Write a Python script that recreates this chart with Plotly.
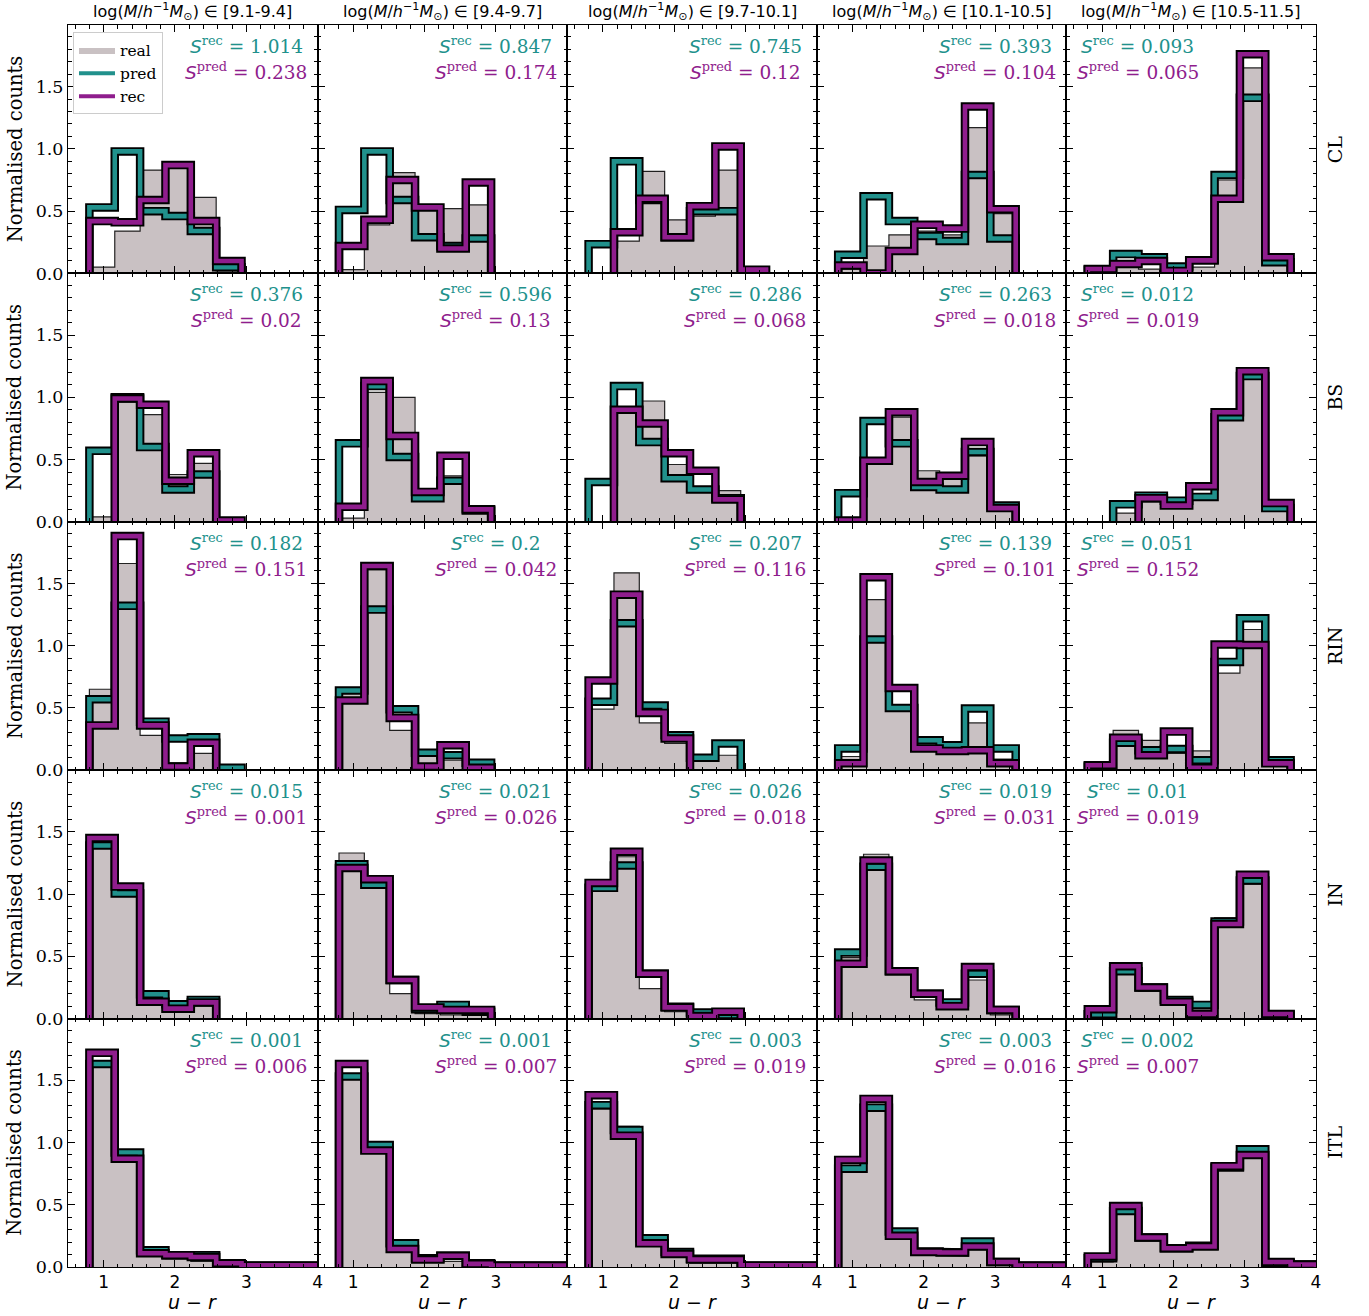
import numpy as np
import plotly.graph_objects as go
from plotly.subplots import make_subplots

# ---------------- data ----------------
ROWS = ["CL", "BS", "RIN", "IN", "ITL"]
MASS_BINS = ["9.1-9.4", "9.4-9.7", "9.7-10.1", "10.1-10.5", "10.5-11.5"]
U_R_MIN, U_R_MAX, N_BINS = 0.8, 4.0, 9

# normalised counts per u-r bin, one list per mass column
REAL_CL = [[0.05, 0.34, 0.83, 0.85, 0.61, 0.02, 0, 0, 0],
           [0.03, 0.39, 0.81, 0.53, 0.52, 0.55, 0, 0, 0],
           [0, 0.26, 0.82, 0.43, 0.46, 0.83, 0, 0, 0],
           [0.035, 0.22, 0.31, 0.34, 0.31, 1.17, 0.48, 0, 0],
           [0.01, 0.10, 0.035, 0.04, 0.05, 0.75, 1.65, 0.10, 0]]
PRED_CL = [[0.53, 0.98, 0.50, 0.46, 0.34, 0.05, 0, 0, 0],
           [0.51, 0.98, 0.59, 0.29, 0.22, 0.28, 0, 0, 0],
           [0.235, 0.90, 0.59, 0.29, 0.50, 0.50, 0, 0, 0],
           [0.15, 0.62, 0.42, 0.30, 0.26, 0.79, 0.28, 0, 0],
           [0.03, 0.155, 0.13, 0.055, 0.105, 0.79, 1.41, 0.09, 0]]
REC_CL = [[0.42, 0.41, 0.59, 0.87, 0.42, 0.10, 0, 0, 0],
          [0.22, 0.43, 0.75, 0.53, 0.20, 0.73, 0, 0, 0],
          [0, 0.33, 0.60, 0.29, 0.54, 1.02, 0.03, 0, 0],
          [0.064, 0, 0.18, 0.39, 0.36, 1.34, 0.515, 0, 0],
          [0.035, 0.075, 0.10, 0.02, 0.105, 0.60, 1.76, 0.13, 0]]

REAL_BS = [[0.04, 0.96, 0.86, 0.38, 0.47, 0.01, 0, 0, 0],
           [0.03, 1.04, 1.00, 0.20, 0.37, 0.08, 0, 0, 0],
           [0, 0.87, 0.97, 0.46, 0.27, 0.25, 0, 0, 0],
           [0.01, 0.47, 0.84, 0.41, 0.34, 0.53, 0.15, 0, 0],
           [0, 0.07, 0.16, 0.19, 0.20, 0.84, 1.16, 0.085, 0]]
PRED_BS = [[0.57, 1.00, 0.60, 0.26, 0.38, 0, 0, 0, 0],
           [0.63, 1.09, 0.52, 0.19, 0.33, 0.09, 0, 0, 0],
           [0.32, 1.09, 0.64, 0.35, 0.26, 0.19, 0, 0, 0],
           [0.23, 0.81, 0.63, 0.28, 0.26, 0.56, 0.13, 0, 0],
           [0, 0.14, 0.21, 0.17, 0.20, 0.84, 1.17, 0.11, 0]]
REC_BS = [[0, 0.99, 0.94, 0.33, 0.55, 0.01, 0, 0, 0],
          [0.12, 1.13, 0.69, 0.24, 0.53, 0.10, 0, 0, 0],
          [0, 0.90, 0.79, 0.55, 0.41, 0.18, 0, 0, 0],
          [0.01, 0.49, 0.88, 0.32, 0.37, 0.64, 0.11, 0, 0],
          [0, 0, 0.19, 0.13, 0.285, 0.88, 1.21, 0.15, 0]]

REAL_RIN = [[0.65, 1.66, 0.28, 0.06, 0.135, 0.01, 0, 0, 0],
            [0.62, 1.61, 0.32, 0.12, 0.08, 0.04, 0, 0, 0],
            [0.49, 1.585, 0.38, 0.215, 0.07, 0.12, 0, 0, 0],
            [0.11, 1.37, 0.48, 0.20, 0.16, 0.38, 0.09, 0, 0],
            [0.02, 0.32, 0.24, 0.135, 0.155, 0.78, 1.13, 0.08, 0]]
PRED_RIN = [[0.57, 1.32, 0.39, 0.255, 0.265, 0.02, 0, 0, 0],
            [0.64, 1.29, 0.49, 0.14, 0.12, 0.06, 0, 0, 0],
            [0.55, 1.18, 0.52, 0.28, 0.10, 0.215, 0, 0, 0],
            [0.175, 1.05, 0.50, 0.24, 0.20, 0.495, 0.175, 0, 0],
            [0.03, 0.22, 0.16, 0.17, 0.08, 0.87, 1.22, 0.08, 0]]
REC_RIN = [[0.36, 1.88, 0.36, 0.03, 0.22, 0, 0, 0, 0],
           [0.56, 1.64, 0.42, 0.03, 0.20, 0.02, 0, 0, 0],
           [0.72, 1.41, 0.46, 0.255, 0, 0, 0, 0, 0],
           [0.056, 1.55, 0.66, 0.175, 0.155, 0.16, 0.056, 0, 0],
           [0.04, 0.26, 0.12, 0.31, 0.02, 1.01, 1.005, 0.055, 0]]

REAL_IN = [[1.37, 0.99, 0.12, 0.09, 0.10, 0, 0, 0, 0],
           [1.33, 1.05, 0.20, 0.04, 0.03, 0.04, 0, 0, 0],
           [1.03, 1.30, 0.24, 0.055, 0.015, 0.03, 0, 0, 0],
           [0.49, 1.32, 0.36, 0.15, 0.095, 0.31, 0.03, 0, 0],
           [0.03, 0.44, 0.22, 0.11, 0.08, 0.81, 1.08, 0.03, 0]]
PRED_IN = [[1.39, 1.005, 0.195, 0.115, 0.15, 0, 0, 0, 0],
           [1.24, 1.075, 0.31, 0.075, 0.11, 0.056, 0, 0, 0],
           [1.05, 1.23, 0.36, 0.095, 0.048, 0.03, 0, 0, 0],
           [0.53, 1.22, 0.38, 0.20, 0.13, 0.36, 0.07, 0, 0],
           [0.035, 0.38, 0.25, 0.15, 0.11, 0.78, 1.11, 0.03, 0]]
REC_IN = [[1.45, 1.06, 0.135, 0.08, 0.13, 0, 0, 0, 0],
          [1.21, 1.12, 0.31, 0.09, 0.07, 0.07, 0, 0, 0],
          [1.09, 1.34, 0.36, 0.09, 0.02, 0.056, 0, 0, 0],
          [0.44, 1.27, 0.38, 0.20, 0.10, 0.415, 0.07, 0, 0],
          [0.075, 0.42, 0.25, 0.135, 0.037, 0.76, 1.155, 0.037, 0]]

REAL_ITL = [[1.61, 0.85, 0.10, 0.067, 0.045, 0.02, 0.01, 0.01, 0.01],
            [1.51, 0.92, 0.125, 0.06, 0.045, 0.02, 0.01, 0.01, 0.01],
            [1.27, 1.13, 0.18, 0.085, 0.03, 0.03, 0.01, 0.01, 0.01],
            [0.80, 1.26, 0.25, 0.125, 0.11, 0.14, 0.03, 0.01, 0.01],
            [0.04, 0.43, 0.23, 0.14, 0.15, 0.785, 0.88, 0.03, 0.01]]
PRED_ITL = [[1.63, 0.92, 0.135, 0.095, 0.095, 0.03, 0.01, 0.01, 0.01],
            [1.53, 0.98, 0.19, 0.07, 0.09, 0.03, 0.01, 0.01, 0.01],
            [1.30, 1.10, 0.23, 0.12, 0.067, 0.067, 0.01, 0.01, 0.01],
            [0.79, 1.28, 0.285, 0.125, 0.117, 0.205, 0.04, 0.01, 0.01],
            [0.07, 0.45, 0.237, 0.15, 0.17, 0.80, 0.945, 0.03, 0.02]]
REC_ITL = [[1.72, 0.87, 0.11, 0.095, 0.08, 0.03, 0.013, 0.013, 0.013],
           [1.63, 0.935, 0.145, 0.06, 0.09, 0.025, 0.012, 0.012, 0.012],
           [1.38, 1.055, 0.19, 0.105, 0.06, 0.06, 0.013, 0.013, 0.013],
           [0.86, 1.35, 0.25, 0.12, 0.117, 0.165, 0.04, 0.012, 0.012],
           [0.085, 0.49, 0.237, 0.15, 0.165, 0.81, 0.90, 0.04, 0.02]]

S_REC = [[1.014, 0.847, 0.745, 0.393, 0.093],
         [0.376, 0.596, 0.286, 0.263, 0.012],
         [0.182, 0.2, 0.207, 0.139, 0.051],
         [0.015, 0.021, 0.026, 0.019, 0.01],
         [0.001, 0.001, 0.003, 0.003, 0.002]]
S_PRED = [[0.238, 0.174, 0.12, 0.104, 0.065],
          [0.02, 0.13, 0.068, 0.018, 0.019],
          [0.151, 0.042, 0.116, 0.101, 0.152],
          [0.001, 0.026, 0.018, 0.031, 0.019],
          [0.006, 0.007, 0.019, 0.016, 0.007]]

REAL = [REAL_CL, REAL_BS, REAL_RIN, REAL_IN, REAL_ITL]
PRED = [PRED_CL, PRED_BS, PRED_RIN, PRED_IN, PRED_ITL]
REC = [REC_CL, REC_BS, REC_RIN, REC_IN, REC_ITL]

# ---------------- style ----------------
GRAY = "#c9c1c3"
TEAL = "#21918c"
PURPLE = "#8f1d8d"
SERIF = "DejaVu Serif"
SANS = "DejaVu Sans"

edges = np.linspace(U_R_MIN, U_R_MAX, N_BINS + 1)


def step_path(vals):
    v = np.asarray(vals, dtype=float)
    nz = np.nonzero(v > 0)[0]
    if len(nz) == 0:
        return [], []
    i0, i1 = nz[0], nz[-1]
    xs, ys = [edges[i0]], [0.0]
    for i in range(i0, i1 + 1):
        xs += [edges[i], edges[i + 1]]
        ys += [v[i], v[i]]
    xs.append(edges[i1 + 1])
    ys.append(0.0)
    return xs, ys


nr, nc = 5, 5
fig = make_subplots(rows=nr, cols=nc, horizontal_spacing=0, vertical_spacing=0)

for r in range(nr):
    for c in range(nc):
        xs, ys = step_path(REAL[r][c])
        fig.add_trace(go.Scatter(x=xs, y=ys, mode="lines", fill="toself", fillcolor=GRAY,
                                 line=dict(color="rgba(0,0,0,0.85)", width=1.2),
                                 showlegend=False, hoverinfo="skip"), row=r + 1, col=c + 1)
        for vals, col in ((PRED[r][c], TEAL), (REC[r][c], PURPLE)):
            xs, ys = step_path(vals)
            fig.add_trace(go.Scatter(x=xs, y=ys, mode="lines",
                                     line=dict(color="black", width=8.5),
                                     showlegend=False, hoverinfo="skip"), row=r + 1, col=c + 1)
            fig.add_trace(go.Scatter(x=xs, y=ys, mode="lines",
                                     line=dict(color=col, width=4.6),
                                     showlegend=False, hoverinfo="skip"), row=r + 1, col=c + 1)

# legend-only traces
fig.add_trace(go.Scatter(x=[None], y=[None], mode="lines", fill="toself", fillcolor=GRAY,
                         line=dict(width=0, color=GRAY), name="real"), row=1, col=1)
fig.add_trace(go.Scatter(x=[None], y=[None], mode="lines", line=dict(color=TEAL, width=4),
                         name="pred"), row=1, col=1)
fig.add_trace(go.Scatter(x=[None], y=[None], mode="lines", line=dict(color=PURPLE, width=4),
                         name="rec"), row=1, col=1)

fig.update_xaxes(range=[0.5, 4.0], tick0=0, dtick=1, ticks="inside", ticklen=7, tickwidth=1,
                 tickcolor="black", showline=True, linecolor="black", linewidth=1, mirror="ticks",
                 minor=dict(ticks="inside", tick0=0, dtick=0.2, ticklen=3.5, tickcolor="black",
                            tickwidth=0.8, showgrid=False),
                 showgrid=False, zeroline=False, showticklabels=False,
                 tickfont=dict(family=SANS, size=17, color="black"))
fig.update_yaxes(range=[0, 1.995], tick0=0, dtick=0.5, tickformat=".1f", ticks="inside",
                 ticklen=7, tickwidth=1, tickcolor="black", showline=True, linecolor="black",
                 linewidth=1, mirror="ticks",
                 minor=dict(ticks="inside", tick0=0, dtick=0.1, ticklen=3.5, tickcolor="black",
                            tickwidth=0.8, showgrid=False),
                 showgrid=False, zeroline=False, showticklabels=False,
                 tickfont=dict(family=SERIF, size=17.5, color="black"))
for c in range(nc):
    fig.update_xaxes(showticklabels=True, row=nr, col=c + 1)
for r in range(nr):
    fig.update_yaxes(showticklabels=True, row=r + 1, col=1)

annotations = []
for r in range(nr):
    for c in range(nc):
        idx = r * nc + c + 1
        xref = "x" if idx == 1 else f"x{idx}"
        yref = "y" if idx == 1 else f"y{idx}"
        xc = 1.5 if c == nc - 1 else 3.0
        annotations.append(dict(
            x=xc, y=1.835, xref=xref, yref=yref, xanchor="center", yanchor="middle", showarrow=False,
            text=f"<span style='font-family:{SANS}'><i>S</i></span><sup>rec</sup> = {S_REC[r][c]}",
            font=dict(family=SERIF, size=18.5, color=TEAL)))
        annotations.append(dict(
            x=xc, y=1.625, xref=xref, yref=yref, xanchor="center", yanchor="middle", showarrow=False,
            text=f"<span style='font-family:{SANS}'><i>S</i></span><sup>pred</sup> = {S_PRED[r][c]}",
            font=dict(family=SERIF, size=18.5, color=PURPLE)))

for c in range(nc):
    annotations.append(dict(
        x=(c + 0.5) / nc, y=1, xref="paper", yref="paper", xanchor="center", yanchor="bottom",
        yshift=0, showarrow=False,
        text=f"log(<i>M</i>/<i>h</i><sup>−1</sup><i>M</i><sub>⊙</sub>) ∈ [{MASS_BINS[c]}]",
        font=dict(family=SANS, size=16, color="black")))
    annotations.append(dict(
        x=(c + 0.5) / nc, y=0, xref="paper", yref="paper", xanchor="center", yanchor="middle",
        yshift=-35, showarrow=False, text="<i>u</i> − <i>r</i>",
        font=dict(family=SANS, size=19, color="black")))

for r in range(nr):
    yc = 1 - (r + 0.5) / nr
    annotations.append(dict(
        x=0, y=yc, xref="paper", yref="paper", xanchor="center", yanchor="middle",
        xshift=-53, showarrow=False, textangle=-90, text="Normalised counts",
        font=dict(family=SERIF, size=19.5, color="black")))
    annotations.append(dict(
        x=1, y=yc, xref="paper", yref="paper", xanchor="center", yanchor="middle",
        xshift=19, showarrow=False, textangle=-90, text=ROWS[r],
        font=dict(family=SERIF, size=19, color="black")))

fig.update_layout(
    width=1369, height=1316,
    margin=dict(l=68, r=53, t=25, b=49),
    paper_bgcolor="white", plot_bgcolor="white",
    annotations=annotations,
    showlegend=True,
    legend=dict(x=0.004, y=0.994, xanchor="left", yanchor="top", bgcolor="white",
                bordercolor="#cccccc", borderwidth=1,
                font=dict(family=SERIF, size=15.5, color="black"),
                itemwidth=36, tracegroupgap=0),
)

# remove the default 8 px page margin so the figure fills the window exactly
fig.write_html("out.html", config={"displayModeBar": False},
               post_script="document.body.style.margin='0px';")
